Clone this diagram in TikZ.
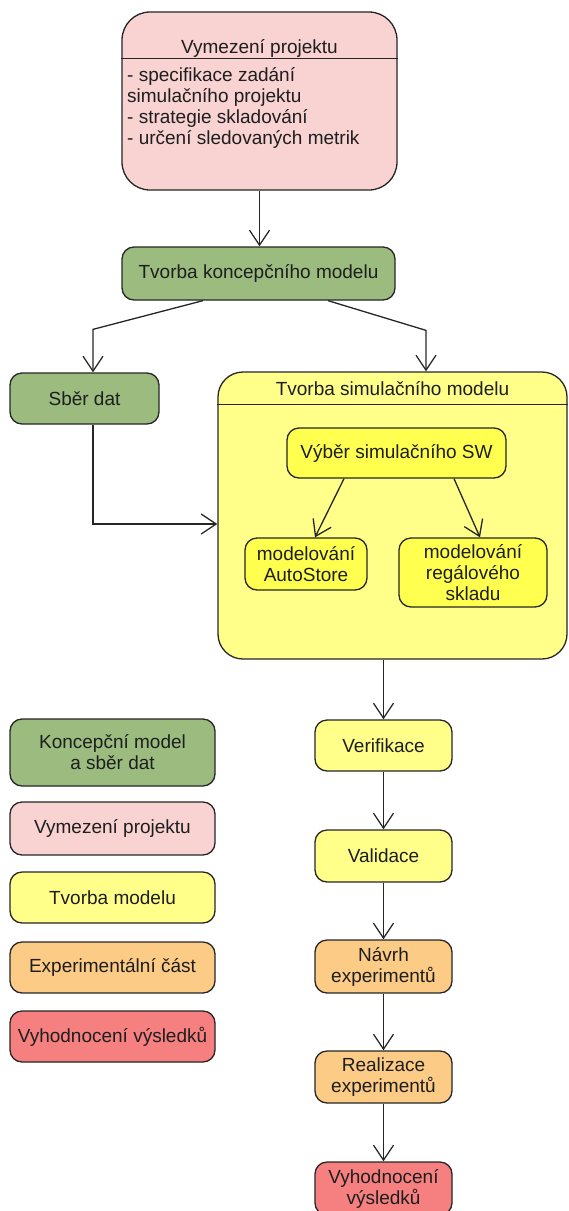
\documentclass[tikz,border=0pt]{standalone}
\usepackage{fontspec}
\setmainfont{Liberation Sans}
\usetikzlibrary{arrows.meta}

\definecolor{linec}{HTML}{262626}
\definecolor{textc}{HTML}{1E1E1E}
\definecolor{pinkc}{HTML}{F9D2D2}
\definecolor{greenc}{HTML}{9BBB7F}
\definecolor{yellowc}{HTML}{FFFF8A}
\definecolor{yellowin}{HTML}{FFFF50}
\definecolor{orangec}{HTML}{FCCB85}
\definecolor{redc}{HTML}{F68080}

\tikzset{
  txt/.style={font=\fontsize{19}{21}\selectfont, text=textc, inner sep=0pt},
  box/.style={draw=linec, line width=1.3pt, rounded corners=12pt, align=center,
              inner sep=2pt, font=\fontsize{19}{21}\selectfont, text=textc},
  kmodel/.style={box, fill=greenc},
  vymez/.style={box, fill=pinkc},
  tmodel/.style={box, fill=yellowc},
  tinner/.style={box, fill=yellowin},
  expc/.style={box, fill=orangec},
  vyhc/.style={box, fill=redc},
  flow/.style={draw=linec, line width=1.3pt, -{Straight Barb[length=15pt,width=20pt]}},
  sepline/.style={draw=linec, line width=1.3pt},
}

\begin{document}
\begin{tikzpicture}[x=1pt, y=-1pt]
\useasboundingbox (0,0) rectangle (568,1211);
\clip (0,0) rectangle (568,1211);

% project definition box with header
\node[vymez, rounded corners=28pt, minimum width=275pt, minimum height=178pt] (vym) at (259.5,101) {};
\draw[sepline] ([yshift=-47pt]vym.north west) -- ([yshift=-47pt]vym.north east);
\node[txt, anchor=base] (vymt) at (259.5,53) {Vymezení projektu};
\node[txt, anchor=base west] (vyml1) at (127,81) {- specifikace zadání};
\node[txt, anchor=base west] (vyml2) at (127,102) {simulačního projektu};
\node[txt, anchor=base west] (vyml3) at (127,123) {- strategie skladování};
\node[txt, anchor=base west] (vyml4) at (127,144) {- určení sledovaných metrik};

% conceptual model and data collection
\node[kmodel, minimum width=273pt, minimum height=53pt] (kon) at (258.5,273.5) {Tvorba koncepčního modelu};
\node[kmodel, minimum width=149pt, minimum height=51pt] (sber) at (84.5,398.5) {Sběr dat};

% simulation model container
\node[tmodel, rounded corners=25pt, minimum width=349pt, minimum height=287pt] (sim) at (392.5,515.5) {};
\draw[sepline] ([yshift=-33pt]sim.north west) -- ([yshift=-33pt]sim.north east);
\node[txt, anchor=base] (simt) at (392.5,395) {Tvorba simulačního modelu};
\node[tinner, minimum width=219pt, minimum height=50pt] (vyb) at (396.5,453) {Výběr simulačního SW};
\node[tinner, minimum width=122pt, minimum height=52pt] (auto) at (306,564) {modelování\\AutoStore};
\node[tinner, minimum width=148pt, minimum height=69pt] (reg) at (473,572.5) {modelování\\regálového\\skladu};

% main flow
\node[tmodel, minimum width=137pt, minimum height=51pt] (ver) at (383.5,745.5) {Verifikace};
\node[tmodel, minimum width=137pt, minimum height=52pt] (val) at (383.5,856) {Validace};
\node[expc, minimum width=137pt, minimum height=53pt] (nav) at (383.5,966.5) {Návrh\\experimentů};
\node[expc, minimum width=137pt, minimum height=52pt] (real) at (383.5,1077) {Realizace\\experimentů};
\node[vyhc, minimum width=137pt, minimum height=53pt] (vyh) at (383.5,1188.5) {Vyhodnocení\\výsledků};

% legend
\node[kmodel, minimum width=205pt, minimum height=67pt] (leg1) at (112.5,752.5) {Koncepční model\\a sběr dat};
\node[vymez, minimum width=205pt, minimum height=53pt] (leg2) at (112.5,828.5) {Vymezení projektu};
\node[tmodel, minimum width=205pt, minimum height=51pt] (leg3) at (112.5,897.5) {Tvorba modelu};
\node[expc, minimum width=205pt, minimum height=51pt] (leg4) at (112.5,967.5) {Experimentální část};
\node[vyhc, minimum width=205pt, minimum height=51pt] (leg5) at (112.5,1036.5) {Vyhodnocení výsledků};

% connectors
\draw[flow] (vym.south) -- (vym.south |- kon.north);
\draw[flow] ([xshift=-55.5pt]kon.south) -- ([xshift=8.5pt,yshift=43pt]sber.north) -- ([xshift=8.5pt]sber.north);
\draw[flow] ([xshift=69.5pt]kon.south) -- ([xshift=33.5pt,yshift=41pt]sim.north) -- ([xshift=33.5pt]sim.north);
\draw[flow] ([xshift=8.5pt]sber.south) |- ([yshift=-8.5pt]sim.west);
\draw[flow] ([xshift=-52.5pt]vyb.south) -- ([xshift=9pt]auto.north);
\draw[flow] ([xshift=57.5pt]vyb.south) -- ([xshift=7pt]reg.north);
\draw[flow] (ver.north |- sim.south) -- (ver.north);
\draw[flow] (ver.south) -- (val.north);
\draw[flow] (val.south) -- (nav.north);
\draw[flow] (nav.south) -- (real.north);
\draw[flow] (real.south) -- (vyh.north);
\end{tikzpicture}
\end{document}
